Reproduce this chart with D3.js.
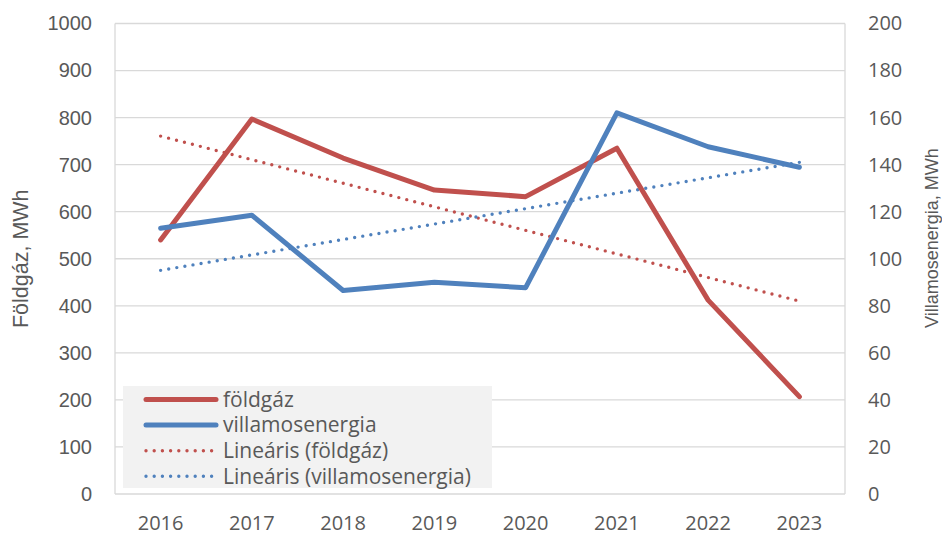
<!DOCTYPE html>
<html>
<head>
<meta charset="utf-8">
<script src="https://cdn.jsdelivr.net/npm/d3@7"></script>
<style>
  body { margin: 0; background: #fff; }
  svg { display: block; }
</style>
</head>
<body>
<svg class="chart"></svg>
<script>
// values
var years = ["2016", "2017", "2018", "2019", "2020", "2021", "2022", "2023"];
var foldgaz = [540, 797, 714, 646, 632, 735, 412, 207];          // MWh, left axis
var villamos = [113, 118.5, 86.5, 90, 87.7, 162, 147.6, 138.9];  // MWh, right axis
var leftTicks = [0, 100, 200, 300, 400, 500, 600, 700, 800, 900, 1000];
var rightTicks = [0, 20, 40, 60, 80, 100, 120, 140, 160, 180, 200];
var legendNames = ["földgáz", "villamosenergia", "Lineáris (földgáz)", "Lineáris (villamosenergia)"];

var width = 942;
var height = 535;
var red = "#C0504D", blue = "#4F81BD", textCol = "#595959", grid = "#D9D9D9";

var svg = d3.select(".chart").attr("width", width).attr("height", height);

var plotLeft = 115, plotRight = 845, plotTop = 23.5, plotBottom = 494;

var x = d3.scaleBand().domain(years).range([plotLeft, plotRight]);
var yL = d3.scaleLinear().domain([0, 1000]).range([plotBottom, plotTop]);
var yR = d3.scaleLinear().domain([0, 200]).range([plotBottom, plotTop]);

// linear trend (least squares), like the Excel trendline
function trend(vals) {
  var n = vals.length, mx = (n - 1) / 2, my = d3.mean(vals);
  var sxy = 0, sxx = 0;
  vals.forEach(function(v, i) { sxy += (i - mx) * (v - my); sxx += (i - mx) * (i - mx); });
  var b = sxy / sxx;
  return vals.map(function(v, i) { return my + b * (i - mx); });
}

// gridlines
svg.append("g").selectAll("line").data(leftTicks).enter().append("line")
  .attr("x1", plotLeft).attr("x2", plotRight)
  .attr("y1", function(d) { return yL(d); }).attr("y2", function(d) { return yL(d); })
  .attr("stroke", grid).attr("stroke-width", 1.3);
svg.append("line").attr("x1", plotLeft).attr("x2", plotLeft).attr("y1", plotTop).attr("y2", plotBottom)
  .attr("stroke", grid).attr("stroke-width", 1.3);
svg.append("line").attr("x1", plotRight).attr("x2", plotRight).attr("y1", plotTop).attr("y2", plotBottom)
  .attr("stroke", grid).attr("stroke-width", 1.3);

// axes (labels only)
var axL = svg.append("g").attr("transform", "translate(" + (plotLeft - 23) + ",0)")
  .call(d3.axisLeft(yL).tickValues(leftTicks).tickFormat(d3.format("d")).tickSize(0).tickPadding(0));
axL.select(".domain").remove();
axL.selectAll("text").attr("fill", textCol)
  .style("font-family", "'Liberation Sans', Arial, sans-serif").style("font-size", "20px");

var axR = svg.append("g").attr("transform", "translate(" + (plotRight + 23) + ",0)")
  .call(d3.axisRight(yR).tickValues(rightTicks).tickFormat(d3.format("d")).tickSize(0).tickPadding(0));
axR.select(".domain").remove();
axR.selectAll("text").attr("fill", textCol)
  .style("font-family", "'Open Sans', sans-serif").style("font-size", "20px");

var axX = svg.append("g").attr("transform", "translate(0," + (plotBottom + 22) + ")")
  .call(d3.axisBottom(x).tickSize(0).tickPadding(0));
axX.select(".domain").remove();
axX.selectAll("text").attr("fill", textCol)
  .style("font-family", "'Open Sans', sans-serif").style("font-size", "20px");

// axis titles
svg.append("text")
  .attr("transform", "translate(28," + ((plotTop + plotBottom) / 2) + ") rotate(-90)")
  .attr("text-anchor", "middle")
  .attr("fill", textCol)
  .style("font-family", "'Liberation Sans', Arial, sans-serif").style("font-size", "21.5px")
  .text("Földgáz, MWh");

svg.append("text")
  .attr("transform", "translate(938,238) rotate(-90)")
  .attr("text-anchor", "middle")
  .attr("fill", textCol)
  .style("font-family", "'Liberation Sans', Arial, sans-serif").style("font-size", "18px")
  .text("Villamosenergia, MWh");

var cx = function(d, i) { return x(years[i]) + x.bandwidth() / 2; };

// trendlines
var trendL = d3.line().x(cx).y(function(d) { return yL(d); });
var trendR = d3.line().x(cx).y(function(d) { return yR(d); });
svg.append("path").datum(trend(foldgaz)).attr("d", trendL)
  .attr("fill", "none").attr("stroke", red).attr("stroke-width", 3.4)
  .attr("stroke-linecap", "round").attr("stroke-dasharray", "0 8.2");
svg.append("path").datum(trend(villamos)).attr("d", trendR)
  .attr("fill", "none").attr("stroke", blue).attr("stroke-width", 3.4)
  .attr("stroke-linecap", "round").attr("stroke-dasharray", "0 8.2");

// series lines
var lineL = d3.line().x(cx).y(function(d) { return yL(d); });
var lineR = d3.line().x(cx).y(function(d) { return yR(d); });
svg.append("path").datum(foldgaz).attr("d", lineL)
  .attr("fill", "none").attr("stroke", red).attr("stroke-width", 5)
  .attr("stroke-linejoin", "round").attr("stroke-linecap", "round");
svg.append("path").datum(villamos).attr("d", lineR)
  .attr("fill", "none").attr("stroke", blue).attr("stroke-width", 5)
  .attr("stroke-linejoin", "round").attr("stroke-linecap", "round");

// legend
var lg = svg.append("g");
lg.append("rect").attr("x", 123).attr("y", 386).attr("width", 369).attr("height", 102).attr("fill", "#F2F2F2");
var legendColors = [red, blue, red, blue];
var rows = lg.selectAll("g.row").data(legendNames).enter().append("g")
  .attr("transform", function(d, i) { return "translate(0," + (399.5 + i * 25.6) + ")"; });
rows.append("line").attr("x1", 146).attr("x2", 216).attr("y1", 0).attr("y2", 0)
  .attr("stroke", function(d, i) { return legendColors[i]; })
  .attr("stroke-width", function(d, i) { return i < 2 ? 5 : 3.4; })
  .attr("stroke-linecap", "round")
  .attr("stroke-dasharray", function(d, i) { return i < 2 ? null : "0 8.2"; });
rows.append("text").attr("x", 223).attr("y", 0).attr("dy", "0.35em")
  .attr("fill", textCol)
  .style("font-family", "'Open Sans', sans-serif").style("font-size", "21px")
  .text(function(d) { return d; });
</script>
</body>
</html>
